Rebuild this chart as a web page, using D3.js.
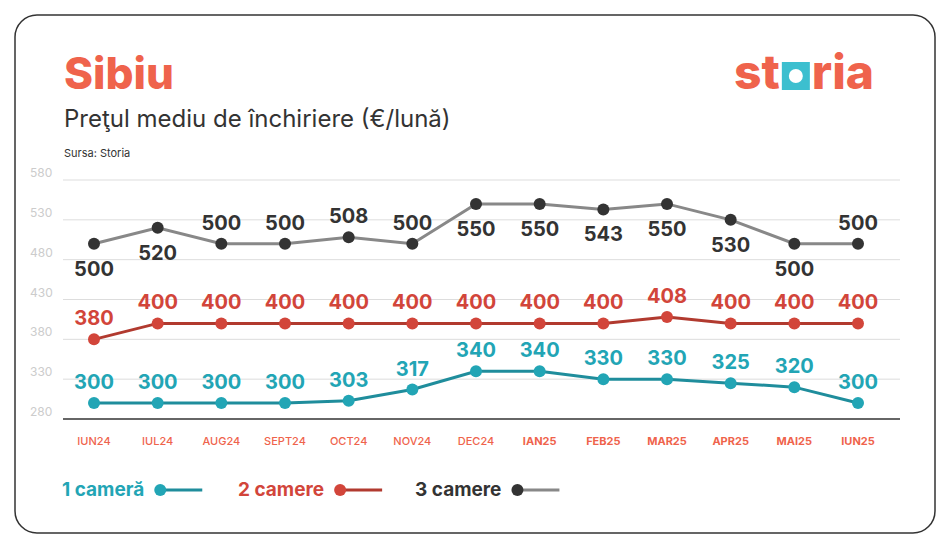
<!DOCTYPE html>
<html><head><meta charset="utf-8">
<script src="https://cdn.jsdelivr.net/npm/d3@7"></script>
<style>body{margin:0;background:#fff;font-family:Inter,"Noto Sans",sans-serif}</style>
</head><body><div class="canvas"></div>
<script>
const months = ['IUN24','IUL24','AUG24','SEPT24','OCT24','NOV24','DEC24','IAN25','FEB25','MAR25','APR25','MAI25','IUN25'];
const oneRoom = [300,300,300,300,303,317,340,340,330,330,325,320,300];
const twoRooms = [380,400,400,400,400,400,400,400,400,408,400,400,400];
const threeRooms = [500,520,500,500,508,500,550,550,543,550,530,500,500];
const yTicks = [280,330,380,430,480,530,580];
// gray labels below the point for these months
const threeBelow = [0,1,6,7,8,9,10,11];

const svg = d3.select('.canvas').append('svg').attr('width',950).attr('height',550);

svg.append('rect').attr('x',15).attr('y',15).attr('width',920).attr('height',518)
  .attr('rx',22).attr('fill','#fff').attr('stroke','#333').attr('stroke-width',1.5);

svg.append('text').attr('x',64).attr('y',89).text('Sibiu')
  .attr('font-size',44).attr('font-weight',800).attr('fill','#ef634c');
svg.append('text').attr('x',64).attr('y',127).text('Preţul mediu de închiriere (€/lună)')
  .attr('font-size',24).attr('fill','#333');
svg.append('text').attr('x',64).attr('y',157).text('Sursa: Storia')
  .attr('font-size',11).attr('fill','#333');

// logo
const logo = svg.append('g');
const st = logo.append('text').attr('x',734).attr('y',89).text('st').attr('font-size',48).attr('font-weight',800).attr('fill','#ef634c');
const sw = st.node().getComputedTextLength();
logo.append('rect').attr('x',734+sw+2).attr('y',62).attr('width',28).attr('height',28).attr('fill','#3cbfcf');
logo.append('circle').attr('cx',734+sw+16).attr('cy',76).attr('r',7).attr('fill','#fff');
logo.append('text').attr('x',734+sw+32).attr('y',89).text('ria').attr('font-size',48).attr('font-weight',800).attr('fill','#ef634c');

const x = d3.scalePoint().domain(months).range([94,858]);
const y = d3.scaleLinear().domain([280,580]).range([419,180]);

const grid = svg.append('g');
grid.selectAll('line').data(yTicks).join('line')
  .attr('x1',63).attr('x2',900).attr('y1',d=>y(d)).attr('y2',d=>y(d))
  .attr('stroke',d=>d===280?'#333':'#ddd').attr('stroke-width',d=>d===280?1.3:1);
grid.selectAll('text').data(yTicks).join('text')
  .attr('x',30).attr('y',d=>y(d)-3).text(d=>d)
  .attr('font-size',12).attr('fill','#ccc');

svg.append('g').selectAll('text').data(months).join('text')
  .attr('x',d=>x(d)).attr('y',445).attr('text-anchor','middle').text(d=>d)
  .attr('font-size',11).attr('font-weight',(d,i)=>i>=7?700:500).attr('fill','#ef634c');

const series = [
  {vals: threeRooms, line:'#888', dot:'#333', label:'#333', below: threeBelow},
  {vals: twoRooms, line:'#b13a2f', dot:'#d2453a', label:'#d2453a', below: []},
  {vals: oneRoom, line:'#1f8d9c', dot:'#22a5b5', label:'#22a5b5', below: []}
];
const line = d3.line().x((d,i)=>x(months[i])).y(d=>y(d));
series.forEach(s => {
  const g = svg.append('g');
  g.append('path').datum(s.vals).attr('d',line).attr('fill','none').attr('stroke',s.line).attr('stroke-width',3);
  g.selectAll('circle').data(s.vals).join('circle')
    .attr('cx',(d,i)=>x(months[i])).attr('cy',d=>y(d)).attr('r',6).attr('fill',s.dot);
  g.selectAll('text').data(s.vals).join('text')
    .attr('x',(d,i)=>x(months[i]))
    .attr('y',(d,i)=>s.below.includes(i)?y(d)+32:y(d)-14)
    .attr('text-anchor','middle').text(d=>d)
    .attr('font-size',20).attr('font-weight',700).attr('fill',s.label);
});

// legend
const legend = [
  {name:'1 cameră', x:62, c:'#22a5b5', l:'#1f8d9c'},
  {name:'2 camere', x:238, c:'#d2453a', l:'#b13a2f'},
  {name:'3 camere', x:415, c:'#333', l:'#888'}
];
legend.forEach(d => {
  const t = svg.append('text').attr('x',d.x).attr('y',496).text(d.name)
    .attr('font-size',19).attr('font-weight',700).attr('fill',d.c);
  const w = t.node().getComputedTextLength();
  svg.append('line').attr('x1',d.x+w+12).attr('x2',d.x+w+58).attr('y1',490).attr('y2',490)
    .attr('stroke',d.l).attr('stroke-width',3);
  svg.append('circle').attr('cx',d.x+w+16).attr('cy',490).attr('r',6).attr('fill',d.c);
});
</script></body></html>
